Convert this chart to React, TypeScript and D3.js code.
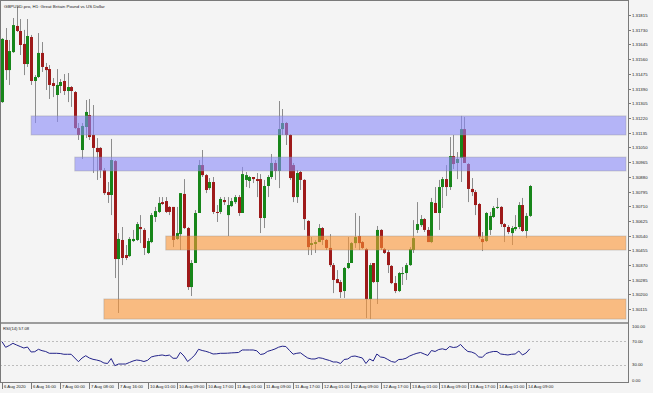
import * as d3 from "d3";

// GBPUSD H1 candles, 6 Aug 08:00 .. 14 Aug 09:00
const open = [
  1.31312, 1.31671, 1.31497, 1.31601, 1.31752, 1.31723, 1.31648, 1.31532, 1.31688, 1.31434,
  1.31457, 1.31596, 1.31515, 1.31503, 1.31422, 1.31353, 1.31405, 1.31434, 1.31376, 1.31399,
  1.3137, 1.31162, 1.31035, 1.31168, 1.31237, 1.31122, 1.31047, 1.31047, 1.30919, 1.30792,
  1.30775, 1.30971, 1.30405, 1.30515, 1.30428, 1.30422, 1.30509, 1.30515, 1.3059, 1.30573,
  1.3044, 1.30503, 1.30648, 1.30677, 1.30734, 1.3074, 1.30706, 1.30706, 1.30521, 1.30549,
  1.30781, 1.30584, 1.30243, 1.30382, 1.30671, 1.30948, 1.3089, 1.30815, 1.3085, 1.30677,
  1.30677, 1.30746, 1.30659, 1.30711, 1.30734, 1.30763, 1.30671, 1.30862, 1.30856, 1.30879,
  1.30867, 1.30867, 1.30642, 1.30827, 1.30879, 1.3096, 1.30914, 1.31156, 1.31191, 1.31122,
  1.30948, 1.30763, 1.30908, 1.30862, 1.30625, 1.30486, 1.30492, 1.30503, 1.30584, 1.30515,
  1.30469, 1.3037, 1.30289, 1.30272, 1.3022, 1.30353, 1.30382, 1.30497, 1.30538, 1.30503,
  1.30463, 1.30174, 1.30382, 1.30272, 1.30573, 1.30463, 1.30445, 1.30365, 1.30266, 1.3022,
  1.30318, 1.30324, 1.3037, 1.30457, 1.30573, 1.30601, 1.30636, 1.30573, 1.30503, 1.30729,
  1.30671, 1.30821, 1.30867, 1.30821, 1.31, 1.3096, 1.30989, 1.31156, 1.30954, 1.3081,
  1.30792, 1.30723, 1.30521, 1.30509, 1.30573, 1.30648, 1.307, 1.30706, 1.30607, 1.3059,
  1.30555, 1.30578, 1.3059, 1.30717, 1.30567, 1.30654,
];
const high = [
  1.31682, 1.3174, 1.31671, 1.31798, 1.31862, 1.31792, 1.31729, 1.31792, 1.317, 1.31468,
  1.31711, 1.31659, 1.31538, 1.31526, 1.31451, 1.31503, 1.31445, 1.31474, 1.3148, 1.31405,
  1.31376, 1.31191, 1.31191, 1.31324, 1.3133, 1.31295, 1.31104, 1.31052, 1.30931, 1.3085,
  1.31099, 1.30977, 1.30555, 1.3059, 1.30486, 1.30532, 1.30573, 1.30619, 1.30659, 1.30584,
  1.30526, 1.30671, 1.30706, 1.30763, 1.30763, 1.30763, 1.30711, 1.30706, 1.30706, 1.30786,
  1.30867, 1.3059, 1.30399, 1.30688, 1.30977, 1.31035, 1.30896, 1.30873, 1.30879, 1.30717,
  1.30763, 1.30763, 1.30763, 1.30758, 1.30775, 1.30775, 1.30937, 1.30908, 1.30885, 1.30879,
  1.30902, 1.30896, 1.30862, 1.3089, 1.31012, 1.30977, 1.31318, 1.31272, 1.31197, 1.31127,
  1.3096, 1.30919, 1.30914, 1.30867, 1.3063, 1.30532, 1.30515, 1.30607, 1.3059, 1.30521,
  1.30549, 1.30382, 1.30341, 1.30284, 1.30359, 1.30532, 1.30503, 1.30671, 1.30654, 1.30509,
  1.30469, 1.30382, 1.30382, 1.30596, 1.30578, 1.30469, 1.30457, 1.3037, 1.30307, 1.3033,
  1.30359, 1.30382, 1.30474, 1.3063, 1.30734, 1.30659, 1.30642, 1.3059, 1.30758, 1.30821,
  1.30862, 1.30879, 1.30948, 1.3111, 1.31122, 1.31023, 1.31232, 1.31226, 1.3096, 1.30873,
  1.30804, 1.30729, 1.30561, 1.30677, 1.30677, 1.30711, 1.30758, 1.30711, 1.30613, 1.30601,
  1.30596, 1.30659, 1.30734, 1.30758, 1.30671, 1.30833,
];
const low = [
  1.31307, 1.3144, 1.31411, 1.31596, 1.31717, 1.31584, 1.31468, 1.31515, 1.31411, 1.31191,
  1.31451, 1.31486, 1.31382, 1.3133, 1.31341, 1.31197, 1.31364, 1.31353, 1.31312, 1.31284,
  1.31156, 1.31093, 1.30983, 1.31104, 1.31093, 1.30902, 1.30862, 1.30873, 1.30775, 1.30729,
  1.30659, 1.30295, 1.30093, 1.3037, 1.30399, 1.30417, 1.30503, 1.30509, 1.30497, 1.30428,
  1.30434, 1.30497, 1.30619, 1.30671, 1.30717, 1.30671, 1.30659, 1.30474, 1.30515, 1.30457,
  1.30578, 1.30226, 1.30191, 1.30382, 1.30671, 1.30879, 1.30786, 1.30804, 1.30665, 1.30619,
  1.30665, 1.30717, 1.30538, 1.30706, 1.30723, 1.30654, 1.30671, 1.30821, 1.30815, 1.30844,
  1.30763, 1.30555, 1.30584, 1.30763, 1.30867, 1.30862, 1.30815, 1.31122, 1.31064, 1.30862,
  1.30734, 1.30729, 1.30804, 1.30573, 1.30428, 1.30428, 1.3044, 1.30503, 1.30486, 1.30457,
  1.30359, 1.30208, 1.30266, 1.3018, 1.3018, 1.30347, 1.30382, 1.30469, 1.30457, 1.30463,
  1.30064, 1.30058, 1.30266, 1.30145, 1.30457, 1.30434, 1.30324, 1.3026, 1.30208, 1.30214,
  1.30255, 1.30284, 1.30365, 1.3044, 1.30555, 1.3059, 1.30561, 1.30503, 1.30497, 1.30671,
  1.30573, 1.307, 1.30769, 1.30804, 1.30925, 1.30867, 1.3085, 1.3096, 1.30734, 1.30769,
  1.30659, 1.30521, 1.30451, 1.30503, 1.30544, 1.30642, 1.30694, 1.3059, 1.30503, 1.30549,
  1.30486, 1.30567, 1.30578, 1.30561, 1.30526, 1.30648,
];
const close = [
  1.31677, 1.31497, 1.31607, 1.31757, 1.31723, 1.31642, 1.31532, 1.31694, 1.31434, 1.31457,
  1.31596, 1.31515, 1.31497, 1.31411, 1.31405, 1.31411, 1.31428, 1.31376, 1.31399, 1.31376,
  1.31162, 1.31122, 1.31174, 1.31255, 1.3111, 1.31047, 1.31023, 1.30919, 1.30786, 1.30775,
  1.30977, 1.30405, 1.30521, 1.30411, 1.30411, 1.30521, 1.30521, 1.30607, 1.30578, 1.30469,
  1.30509, 1.30659, 1.30682, 1.30729, 1.30723, 1.30677, 1.30677, 1.30515, 1.30555, 1.30786,
  1.30584, 1.30243, 1.30382, 1.30671, 1.30948, 1.3089, 1.30804, 1.3085, 1.30677, 1.30671,
  1.30752, 1.30734, 1.30717, 1.3074, 1.30763, 1.30671, 1.30896, 1.3089, 1.30879, 1.30867,
  1.30856, 1.30642, 1.30827, 1.30879, 1.3096, 1.30914, 1.31156, 1.31191, 1.31122, 1.30873,
  1.30763, 1.30902, 1.30862, 1.30636, 1.30474, 1.30497, 1.30503, 1.30584, 1.30515, 1.30469,
  1.3037, 1.30284, 1.30266, 1.30214, 1.30353, 1.30382, 1.30497, 1.30532, 1.30497, 1.30469,
  1.30174, 1.3037, 1.30272, 1.30573, 1.30469, 1.3044, 1.3037, 1.30266, 1.3022, 1.30324,
  1.30324, 1.3037, 1.30463, 1.30526, 1.30607, 1.30636, 1.30573, 1.30503, 1.30734, 1.30671,
  1.30821, 1.30867, 1.30821, 1.31, 1.30954, 1.30983, 1.31156, 1.3096, 1.3081, 1.30792,
  1.30717, 1.30532, 1.30503, 1.30671, 1.30654, 1.307, 1.30706, 1.30607, 1.3059, 1.30561,
  1.30584, 1.3059, 1.30717, 1.30567, 1.30654, 1.30827,
];
const rsi = [
  69.5, 59.8, 62.9, 66.7, 63.8, 61.2, 58.6, 60.3, 51.7, 52.2,
  56.4, 54.0, 52.6, 49.5, 49.5, 49.5, 49.1, 47.8, 47.8, 47.8,
  41.4, 35.0, 41.4, 45.3, 41.4, 39.1, 37.9, 36.2, 32.8, 31.9,
  40.5, 28.1, 31.0, 31.0, 31.0, 33.6, 36.2, 37.9, 37.1, 35.3,
  37.4, 43.1, 44.8, 45.7, 46.6, 45.3, 46.4, 40.9, 40.9, 51.2,
  44.8, 35.3, 40.5, 46.6, 56.4, 54.3, 52.9, 50.9, 48.3, 48.6,
  49.5, 49.5, 49.7, 50.2, 50.5, 50.9, 55.2, 55.2, 55.2, 55.2,
  53.8, 47.4, 48.6, 52.9, 54.7, 56.9, 60.0, 61.7, 61.2, 54.3,
  47.9, 49.5, 50.3, 45.7, 41.4, 39.7, 39.7, 41.9, 40.9, 38.8,
  37.1, 34.5, 34.5, 31.9, 38.8, 39.7, 44.0, 44.8, 43.1, 41.4,
  31.9, 39.7, 36.2, 48.3, 43.1, 42.2, 38.8, 35.3, 34.0, 38.8,
  39.1, 40.9, 44.8, 47.4, 49.5, 50.9, 48.3, 45.7, 54.3, 52.6,
  56.0, 57.2, 55.5, 61.2, 59.5, 60.3, 64.7, 57.8, 52.6, 51.7,
  49.1, 43.1, 42.6, 49.1, 51.2, 52.6, 52.6, 48.3, 47.4, 46.6,
  47.8, 48.3, 53.4, 46.6, 50.0, 57.08,
];

// one label every 8 bars
const timeLabels = [
  "6 Aug 2020", "6 Aug 16:00", "7 Aug 00:00", "7 Aug 08:00", "7 Aug 16:00",
  "10 Aug 01:00", "10 Aug 09:00", "10 Aug 17:00", "11 Aug 01:00", "11 Aug 09:00",
  "11 Aug 17:00", "12 Aug 01:00", "12 Aug 09:00", "12 Aug 17:00", "13 Aug 01:00",
  "13 Aug 09:00", "13 Aug 17:00", "14 Aug 01:00", "14 Aug 09:00",
];
const priceTicks = [
  1.31815, 1.3173, 1.31645, 1.3156, 1.31475, 1.3139, 1.31305, 1.3122, 1.31135, 1.3105,
  1.30965, 1.3088, 1.30795, 1.3071, 1.30625, 1.3054, 1.30455, 1.3037, 1.30285, 1.302, 1.30115,
];
const rsiTicks = [100, 70, 30, 0];

// supply / demand zones
const zoneTop = [1.31232, 1.30994, 1.30538, 1.30174];
const zoneBottom = [1.31122, 1.30914, 1.30457, 1.30058];
const zoneStart = [8, 20, 45, 28];
const zoneKind = ["supply", "supply", "demand", "demand"];

const W = 653;
const H = 393;
const RIGHT = 628;
const MAIN_BOTTOM = 322;
const RSI_TOP = 324;
const RSI_BOTTOM = 382;
const FONT = "'Liberation Sans', Arial, sans-serif";

export default function App() {
  const x = d3.scaleLinear().domain([0, 172]).range([2, RIGHT]);
  const y = d3.scaleLinear().domain([1.30041, 1.31902]).range([MAIN_BOTTOM, 0]);
  const yr = d3.scaleLinear().domain([0, 100]).range([RSI_BOTTOM, RSI_TOP]);

  const rsiPath = d3
    .line<number>()
    .x((_, i) => x(i))
    .y((d) => yr(d))(rsi);

  const candles = close.map((c, i) => {
    const o = open[i];
    const cx = Math.round(x(i));
    const top = y(Math.max(o, c));
    const h = Math.max(1, Math.abs(y(o) - y(c)));
    const up = c >= o;
    return (
      <g key={i}>
        <line
          x1={cx + 0.5}
          x2={cx + 0.5}
          y1={y(high[i])}
          y2={y(low[i])}
          stroke="#8c8c8c"
          strokeWidth={1}
        />
        <rect x={cx - 1} y={top} width={3} height={h} fill={up ? "#17861a" : "#9e1a1a"} />
      </g>
    );
  });

  return (
    <svg
      width={W}
      height={H}
      style={{ position: "fixed", left: 0, top: 0, background: "#f4f4f4" }}
      fontFamily={FONT}
    >
      <rect width={W} height={H} fill="#f4f4f4" />

      <clipPath id="mainClip">
        <rect x={0} y={0} width={RIGHT} height={MAIN_BOTTOM} />
      </clipPath>

      <g clipPath="url(#mainClip)">
        {candles}
        {zoneTop.map((t, i) => (
          <rect
            key={i}
            x={x(zoneStart[i])}
            y={y(t)}
            width={RIGHT - 2 - x(zoneStart[i])}
            height={y(zoneBottom[i]) - y(t)}
            fill={zoneKind[i] === "supply" ? "#8888f9" : "#fc9533"}
            fillOpacity={0.6}
            stroke="#8a8a8a"
            strokeOpacity={0.35}
          />
        ))}
      </g>

      <text x={4} y={7.5} fontSize={4.4} fill="#222">
        GBPUSD.pro, H1:  Great Britain Pound vs US Dollar
      </text>

      {/* panel separator */}
      <rect x={0} y={MAIN_BOTTOM} width={RIGHT + 1} height={RSI_TOP - MAIN_BOTTOM} fill="#9c9c9c" />

      {/* RSI levels */}
      {[70, 30].map((v) => (
        <line
          key={v}
          x1={0}
          x2={RIGHT}
          y1={Math.round(yr(v)) + 0.5}
          y2={Math.round(yr(v)) + 0.5}
          stroke="#bdbdbd"
          strokeDasharray="2,2"
        />
      ))}
      <path d={rsiPath ?? ""} fill="none" stroke="#23238a" strokeWidth={1} />
      <text x={3} y={329.5} fontSize={4.2} fill="#222">
        RSI(14) 57.08
      </text>

      {/* frame */}
      <rect x={0.5} y={0.5} width={RIGHT} height={RSI_BOTTOM} fill="none" stroke="#7a7a7a" />

      {/* price axis */}
      {priceTicks.map((p) => {
        const py = Math.round(y(p)) + 0.5;
        return (
          <g key={p}>
            <line x1={RIGHT + 0.5} x2={RIGHT + 3} y1={py} y2={py} stroke="#7a7a7a" />
            <text x={RIGHT + 4} y={py} dy="0.35em" fontSize={4.3} fill="#222">
              {p.toFixed(5)}
            </text>
          </g>
        );
      })}
      {rsiTicks.map((v) => {
        const py = Math.min(Math.max(yr(v), RSI_TOP + 2), RSI_BOTTOM - 2);
        return (
          <text key={v} x={RIGHT + 4} y={py} dy="0.35em" fontSize={4.3} fill="#222">
            {v.toFixed(2)}
          </text>
        );
      })}

      {/* time axis */}
      {timeLabels.map((t, i) => {
        const tx = Math.round(x(i * 8)) + 0.5;
        return (
          <g key={t}>
            <line x1={tx} x2={tx} y1={RSI_BOTTOM + 1} y2={RSI_BOTTOM + 7} stroke="#7a7a7a" />
            <text x={tx + 1.5} y={RSI_BOTTOM + 6} fontSize={4.3} fill="#222">
              {t}
            </text>
          </g>
        );
      })}
    </svg>
  );
}
